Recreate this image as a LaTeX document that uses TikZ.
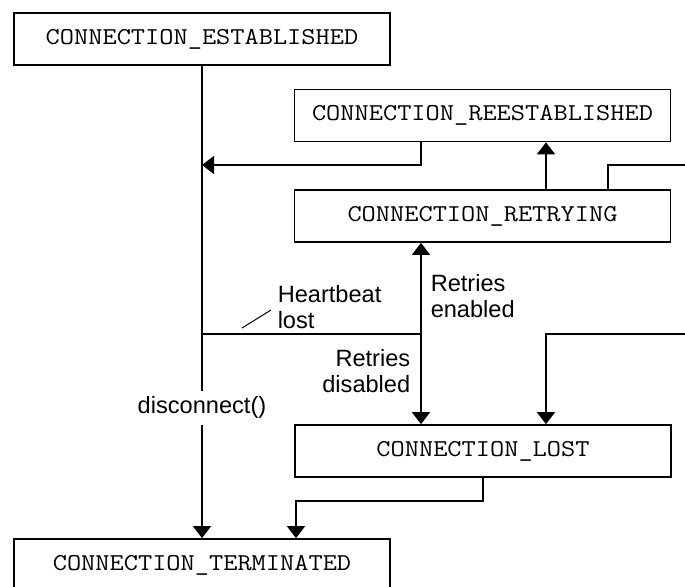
\documentclass[tikz,border=0pt]{standalone}
\usepackage{fontspec}
\setmainfont{Liberation Sans}
\setmonofont{Latin Modern Mono}[FakeStretch=1.14]
\usetikzlibrary{arrows.meta, positioning}

\begin{document}
\begin{tikzpicture}[x=0.5pt, y=-0.5pt, line width=0.75pt,
  state/.style={draw, fill=white, line width=0.85pt, minimum width=188pt, minimum height=26pt,
    inner sep=0pt, font=\ttfamily\fontsize{12.1}{12.6}\selectfont},
  lbl/.style={inner sep=1pt, font=\fontsize{11.8}{12.6}\selectfont},
  flow/.style={-{Triangle[length=6pt,width=9pt]}}]
\clip[use as bounding box] (0,0) rectangle (685,587);

\node[state] (est) at (202,39) {CONNECTION\_ESTABLISHED};
\node[state] (reest) at (482.5,115.5) {CONNECTION\_REESTABLISHED};
\node[state] (retry) at (482.5,216) {CONNECTION\_RETRYING};
\node[state] (lost) at (483,451) {CONNECTION\_LOST};
\node[state] (term) at (202,565) {CONNECTION\_TERMINATED};

\coordinate (back) at (421,165);
\coordinate (loopA) at (608,165);
\coordinate (edgeA) at (685,165);
\coordinate (hb) at (421,334);
\coordinate (loopB) at (546,334);
\coordinate (edgeB) at (685,334);
\coordinate (out) at (483,501);
\coordinate (drop) at (296,501);

% disconnect
\draw[flow] (est) -- node[lbl, pos=0.724, fill=white, inner sep=3pt] {disconnect()} (term);

% reconnect paths
\draw[flow] (back |- reest.south) -- (back) -- (back -| est);
\draw[flow] (retry.north -| loopB) -- (reest.south -| loopB);
\draw (loopA |- retry.north) -- (loopA) -- (edgeA);

% heartbeat lost
\draw (hb -| est) -- (hb);
\draw[{Triangle[length=6pt,width=9pt]}-{Triangle[length=6pt,width=9pt]}] (hb |- retry.south) -- (hb |- lost.north);
\draw[flow] (edgeB) -- (loopB) -- (loopB |- lost.north);
\draw[flow] (out |- lost.south) -- (out) -- (drop) -- (drop |- term.north);

\node[lbl, anchor=west, align=left] (hbl) at (275,307) {Heartbeat\\lost};
\coordinate (lead1) at (242,328);
\coordinate (lead2) at (271,310);
\draw[line width=0.5pt] (lead1) -- (lead2);
\node[lbl, anchor=west, align=left] (en) at (428,296) {Retries\\enabled};
\node[lbl, anchor=east, align=right] (dis) at (413,371) {Retries\\disabled};

\end{tikzpicture}
\end{document}
